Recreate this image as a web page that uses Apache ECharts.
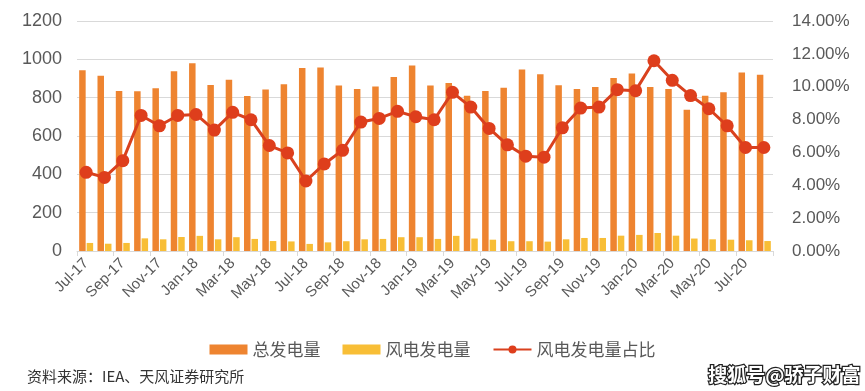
<!DOCTYPE html>
<html><head><meta charset="utf-8">
<script src="https://cdn.jsdelivr.net/npm/echarts@6/dist/echarts.min.js"></script>
<style>html,body{margin:0;padding:0;background:#fff}#c{width:865px;height:391px}</style>
</head><body><div id="c"></div>
<script>
const categories = ['Jul-17','Aug-17','Sep-17','Oct-17','Nov-17','Dec-17','Jan-18','Feb-18','Mar-18','Apr-18','May-18','Jun-18',
'Jul-18','Aug-18','Sep-18','Oct-18','Nov-18','Dec-18','Jan-19','Feb-19','Mar-19','Apr-19','May-19','Jun-19',
'Jul-19','Aug-19','Sep-19','Oct-19','Nov-19','Dec-19','Jan-20','Feb-20','Mar-20','Apr-20','May-20','Jun-20','Jul-20','Aug-20'];
const totalGen = [943,915,835,833,849,938,980,866,894,809,842,870,
955,957,863,845,858,908,968,863,877,810,835,852,
947,922,865,845,856,903,926,856,845,737,810,828,931,919];
const windGen = [42,38,42,66,61,73,79,61,72,63,52,50,
37,45,51,61,63,72,72,63,79,65,59,51,
51,49,61,68,68,80,84,94,80,65,61,59,56,52];
const windShare = [4.79,4.48,5.50,8.25,7.62,8.25,8.31,7.36,8.44,7.99,6.42,5.97,
4.26,5.30,6.13,7.85,8.07,8.50,8.17,7.99,9.66,8.76,7.46,6.46,
5.77,5.71,7.50,8.70,8.76,9.82,9.76,11.58,10.39,9.46,8.66,7.62,6.30,6.30];
const leftTicks = {min:0, max:1200, interval:200};
const rightTicks = {min:0, max:14, interval:2};

const chart = echarts.init(document.getElementById('c'));
const FONT = '"Noto Sans CJK SC","Noto Sans",sans-serif';
const NUMFONT = '"Liberation Sans",Arial,sans-serif';
chart.setOption({
  animation:false,
  textStyle:{fontFamily:FONT},
  grid:{left:77,right:92,top:21,bottom:140},
  legend:{
    bottom:28,left:'center',itemGap:22,itemWidth:38,itemHeight:10,
    textStyle:{color:'#595959',fontSize:17,fontFamily:FONT},
    data:[{name:'总发电量',icon:'rect'},{name:'风电发电量',icon:'rect'},{name:'风电发电量占比'}]
  },
  xAxis:{
    type:'category',data:categories,
    axisLine:{lineStyle:{color:'#d9d9d9'}},
    axisTick:{show:true,interval:1,lineStyle:{color:'#d9d9d9'}},
    axisLabel:{interval:1,rotate:45,color:'#595959',fontSize:15,margin:10,fontFamily:NUMFONT}
  },
  yAxis:[
    {type:'value',min:leftTicks.min,max:leftTicks.max,interval:leftTicks.interval,
     axisLabel:{color:'#595959',fontSize:18,margin:15,formatter:v=>String(v),fontFamily:NUMFONT},
     splitLine:{lineStyle:{color:'#d9d9d9'}},axisLine:{show:false},axisTick:{show:false}},
    {type:'value',min:rightTicks.min,max:rightTicks.max,interval:rightTicks.interval,
     axisLabel:{color:'#595959',fontSize:17,margin:19,formatter:v=>v.toFixed(2)+'%',fontFamily:NUMFONT},
     splitLine:{show:false},axisLine:{show:false},axisTick:{show:false}}
  ],
  series:[
    {name:'总发电量',type:'bar',data:totalGen,barWidth:6.5,barGap:'15%',itemStyle:{color:'#EE8430'}},
    {name:'风电发电量',type:'bar',data:windGen,barWidth:6.5,barGap:'15%',itemStyle:{color:'#F8BE36'}},
    {name:'风电发电量占比',type:'line',yAxisIndex:1,data:windShare,symbol:'circle',symbolSize:13,showAllSymbol:true,
     lineStyle:{color:'#D9411E',width:3},itemStyle:{color:'#DE3E1C'}}
  ],
  graphic:[
    {type:'text',left:27,top:369,style:{text:'资料来源：IEA、天风证券研究所',fill:'#333',font:'15px '+FONT}},
    {type:'text',left:707,top:364,style:{text:'搜狐号@骄子财富',fill:'#fff',stroke:'#222',lineWidth:2.5,font:'bold 19px '+FONT}}
  ]
});
</script></body></html>
